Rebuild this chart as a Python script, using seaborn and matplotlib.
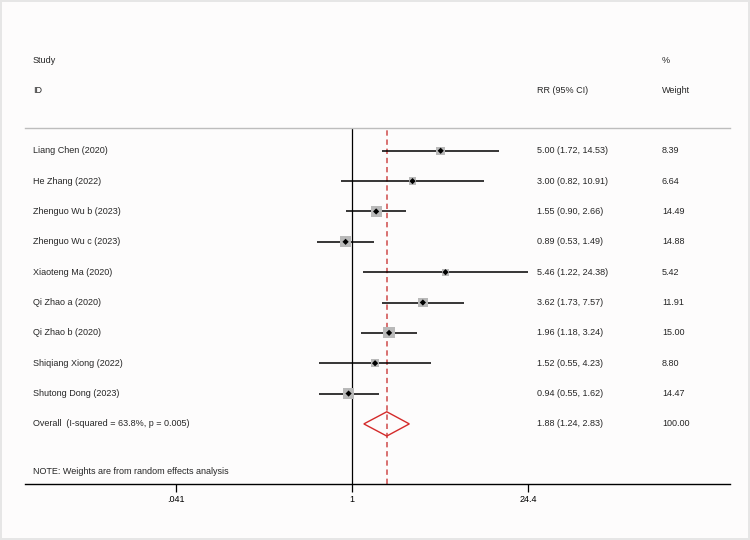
import numpy as np
import matplotlib
matplotlib.use("Agg")
import matplotlib.pyplot as plt
import seaborn as sns

# Study data
studies = ["Liang Chen (2020)", "He Zhang (2022)", "Zhenguo Wu b (2023)", "Zhenguo Wu c (2023)",
           "Xiaoteng Ma (2020)", "Qi Zhao a (2020)", "Qi Zhao b (2020)", "Shiqiang Xiong (2022)",
           "Shutong Dong (2023)"]
rr = [5.00, 3.00, 1.55, 0.89, 5.46, 3.62, 1.96, 1.52, 0.94]
lci = [1.72, 0.82, 0.90, 0.53, 1.22, 1.73, 1.18, 0.55, 0.55]
uci = [14.53, 10.91, 2.66, 1.49, 24.38, 7.57, 3.24, 4.23, 1.62]
weights = [8.39, 6.64, 14.49, 14.88, 5.42, 11.91, 15.00, 8.80, 14.47]

overall_label = "Overall  (I-squared = 63.8%, p = 0.005)"
overall_rr, overall_lci, overall_uci, overall_w = 1.88, 1.24, 2.83, 100.00
note = "NOTE: Weights are from random effects analysis"
tick_vals = [0.041, 1, 24.4]
tick_labels = [".041", "1", "24.4"]

sns.set_style("white")
plt.rcParams['font.family'] = ['Liberation Sans', 'DejaVu Sans']
fs = 6.5

fig = plt.figure(figsize=(7.5, 5.4), dpi=100)
fig.patch.set_facecolor("#fdfcfc")
fig.patch.set_edgecolor("#e6e6e6")
fig.patch.set_linewidth(1.5)
ax = fig.add_axes([25 / 750, 1 - 484 / 540, 705 / 750, 356 / 540])
ax.set_facecolor("#fdfcfc")

ypos = np.arange(len(studies))
ax.set_xscale("log")
ax.set_xlim(np.exp(-327 / 55.09), np.exp(378 / 55.09))
ax.set_ylim(10.98, -0.75)

# reference lines
ax.axvline(1, color="black", lw=0.9, zorder=1)
ax.axvline(overall_rr, color="#cf4a4a", lw=1.1, ls=(0, (3.5, 2.5)), zorder=1)

# confidence intervals
ax.hlines(ypos, lci, uci, color="black", lw=1.1, zorder=2)

# weight boxes
sns.scatterplot(x=rr, y=ypos, s=np.array(weights) * 4.3, marker="s", color="#b9b9b9",
                edgecolor="none", linewidth=0, ax=ax, zorder=3, legend=False)
sns.scatterplot(x=rr, y=ypos, s=10, marker="D", color="black", edgecolor="none",
                ax=ax, zorder=4, legend=False)

# overall diamond
yo = len(studies)
ax.fill([overall_lci, overall_rr, overall_uci, overall_rr, overall_lci],
        [yo, yo - 0.4, yo, yo + 0.4, yo], facecolor="none", edgecolor="#d42a2a", lw=1.0, zorder=3)

# text columns
tr = ax.get_yaxis_transform()
x_lab, x_ci, x_w = 8 / 705, 512 / 705, 637 / 705
for i, name in enumerate(studies):
    ax.text(x_lab, i, name, transform=tr, fontsize=fs, va="center")
    ax.text(x_ci, i, f"{rr[i]:.2f} ({lci[i]:.2f}, {uci[i]:.2f})", transform=tr, fontsize=fs, va="center")
    ax.text(x_w, i, f"{weights[i]:.2f}", transform=tr, fontsize=fs, va="center")
ax.text(x_lab, yo, overall_label, transform=tr, fontsize=fs, va="center")
ax.text(x_ci, yo, f"{overall_rr:.2f} ({overall_lci:.2f}, {overall_uci:.2f})", transform=tr, fontsize=fs, va="center")
ax.text(x_w, yo, f"{overall_w:.2f}", transform=tr, fontsize=fs, va="center")
ax.text(x_lab, 10.58, note, transform=tr, fontsize=fs, va="center")

# headers
ax.text(x_lab, -2.98, "Study", transform=tr, fontsize=fs, va="center", clip_on=False)
ax.text(x_lab, -1.98, "ID", transform=tr, fontsize=fs, va="center", clip_on=False)
ax.text(x_ci, -1.98, "RR (95% CI)", transform=tr, fontsize=fs, va="center", clip_on=False)
ax.text(x_w, -2.98, "%", transform=tr, fontsize=fs, va="center", clip_on=False)
ax.text(x_w, -1.98, "Weight", transform=tr, fontsize=fs, va="center", clip_on=False)

# axes styling
for side in ["left", "right"]:
    ax.spines[side].set_visible(False)
ax.spines["top"].set_color("#bdbdbd")
ax.spines["top"].set_linewidth(1.0)
ax.spines["bottom"].set_color("black")
ax.spines["bottom"].set_linewidth(1.0)
ax.set_yticks([])
ax.minorticks_off()
ax.set_xticks(tick_vals)
ax.set_xticklabels(tick_labels)
ax.tick_params(axis="x", bottom=True, direction="out", length=5.8, width=0.9, pad=2,
               labelsize=fs, colors="black")
ax.set_xlabel("")
ax.set_ylabel("")

fig.savefig("out.png", dpi=100, facecolor=fig.get_facecolor(), edgecolor=fig.get_edgecolor())
